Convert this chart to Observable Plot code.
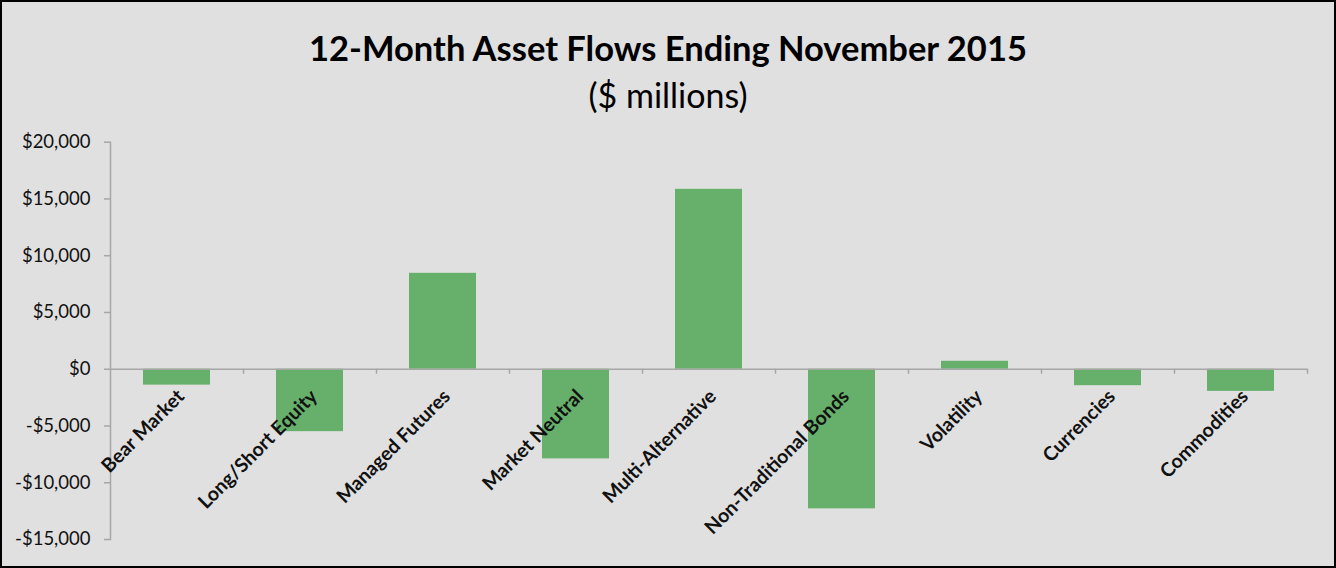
<!DOCTYPE html>
<html><head><meta charset="utf-8">
<script src="https://cdn.jsdelivr.net/npm/d3@7"></script>
<script src="https://cdn.jsdelivr.net/npm/@observablehq/plot@0.6"></script>
<style>
html,body{margin:0;padding:0;background:#fff;}
#chart{position:relative;width:1336px;height:568px;background:#e0e0e0;overflow:hidden;font-family:Lato,"Open Sans",sans-serif;color:#000;}
#chart::after{content:"";position:absolute;inset:0;border:2px solid #000;pointer-events:none;}
#title{position:absolute;left:0;right:0;top:27px;text-align:center;font-weight:700;font-size:34.5px;line-height:42px;}
#subtitle{position:absolute;left:0;right:0;top:74px;text-align:center;font-size:34px;line-height:42px;}
#plot{position:absolute;left:0;top:120px;}
</style></head>
<body>
<div id="chart">
  <div id="title">12-Month Asset Flows Ending November 2015</div>
  <div id="subtitle">($ millions)</div>
  <div id="plot"></div>
</div>
<script>
const categories = ["Bear Market", "Long/Short Equity", "Managed Futures", "Market Neutral", "Multi-Alternative", "Non-Traditional Bonds", "Volatility", "Currencies", "Commodities"];
const flows = [-1400, -5500, 8450, -7900, 15850, -12300, 700, -1450, -1950];
const yTicks = [-15000, -10000, -5000, 0, 5000, 10000, 15000, 20000];

const data = categories.map((c, i) => ({category: c, flow: flows[i]}));
const W = 1336, H = 448;
const mL = 110, mR = 28.7, mT = 21.7, mB = 29;
const step = (W - mL - mR) / categories.length;
const fmt = d => (d < 0 ? "-" : "") + "$" + d3.format(",")(Math.abs(d));
const axisGray = "#a6a6a6";

const plot = Plot.plot({
  width: W, height: H,
  marginTop: mT, marginBottom: mB, marginLeft: mL, marginRight: mR,
  style: {background: "transparent", fontFamily: "Lato, 'Open Sans', sans-serif", color: "#000"},
  x: {domain: categories, paddingInner: 0.5, paddingOuter: 0.25, axis: null},
  y: {domain: [-15000, 20000], axis: null},
  marks: [
    Plot.barY(data, {x: "category", y: "flow", fill: "#67b06b"}),
    Plot.ruleY([0], {stroke: axisGray, strokeWidth: 1.5}),
    Plot.frame({anchor: "left", stroke: axisGray, strokeWidth: 1.5}),
    Plot.ruleX(categories, {x: d => d, y1: 0, y2: 0, insetBottom: -5, dx: step / 2, stroke: axisGray, strokeWidth: 1.5}),
    Plot.axisY(yTicks, {label: null, tickSize: 6, tickPadding: 14, tickFormat: fmt, stroke: axisGray, strokeWidth: 1.5, fill: "#111", fontSize: 18.5}),
    Plot.text(data, {x: "category", y: 0, text: "category", rotate: -45, textAnchor: "end", lineAnchor: "middle", fontWeight: "bold", fontSize: 19.5, fill: "#111", dx: 4, dy: 24})
  ]
});
document.getElementById("plot").appendChild(plot);
</script>
</body></html>
